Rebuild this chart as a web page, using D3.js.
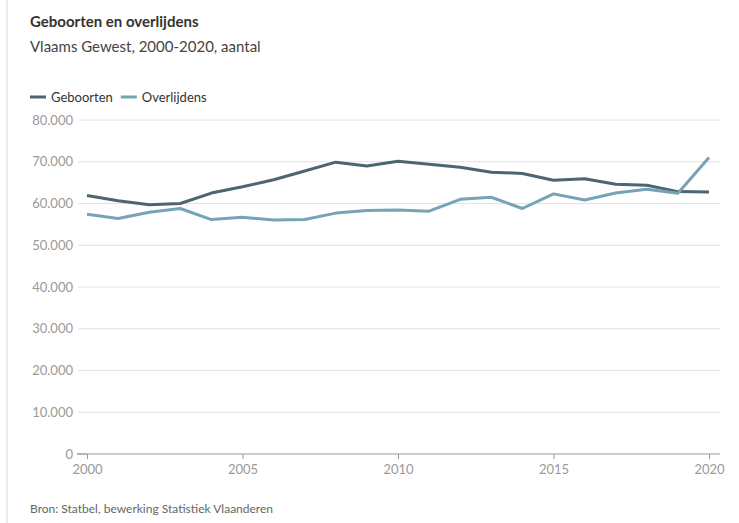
<!DOCTYPE html>
<html>
<head>
<meta charset="utf-8">
<script src="https://cdn.jsdelivr.net/npm/d3@7"></script>
<style>
  body { margin: 0; background: #fff; font-family: Lato, "Open Sans", sans-serif; }
  .frame { position: absolute; left: 6px; top: 0; width: 2px; height: 523px; background: #ebebeb; }
  .grid line { stroke: #e2e2e2; }
  .axis text { fill: #9a9a9a; font-size: 13px; font-family: Lato, sans-serif; }
</style>
</head>
<body>
<div class="frame"></div>
<div id="chart"></div>
<script>
// data
const years = d3.range(2000, 2021);
const geboorten = [61900, 60650, 59700, 60000, 62500, 64000, 65700, 67800, 69900, 69000, 70100,
                   69400, 68700, 67500, 67200, 65550, 65950, 64600, 64350, 62850, 62750];
const overlijdens = [57400, 56400, 57900, 58800, 56150, 56700, 56050, 56150, 57700, 58300, 58450,
                     58150, 61000, 61500, 58800, 62300, 60850, 62500, 63400, 62450, 71000];
const yTicks = [0, 10000, 20000, 30000, 40000, 50000, 60000, 70000, 80000];
const xTicks = [2000, 2005, 2010, 2015, 2020];

const series = [
    {name: 'Geboorten', values: geboorten, color: '#4b6571'},
    {name: 'Overlijdens', values: overlijdens, color: '#75a4b5'}
];

const width = 739, height = 523;
const svg = d3.select('#chart').append('svg')
    .attr('width', width)
    .attr('height', height);

// titles
svg.append('text')
    .attr('x', 30).attr('y', 27)
    .style('font-size', '15px').style('font-weight', 700).style('fill', '#333')
    .text('Geboorten en overlijdens');
svg.append('text')
    .attr('x', 30).attr('y', 52)
    .style('font-size', '15px').style('fill', '#444')
    .text('Vlaams Gewest, 2000-2020, aantal');

// scales
const x = d3.scaleLinear().domain([2000, 2020]).range([87, 709]);
const y = d3.scaleLinear().domain([0, 80000]).range([454, 120]);
const fmt = d => d3.format(',')(d).replace(/,/g, '.');

// gridlines
svg.append('g')
    .attr('class', 'grid')
    .selectAll('line')
    .data(yTicks.filter(d => d > 0))
    .enter()
    .append('line')
    .attr('x1', 78).attr('x2', 720)
    .attr('y1', d => y(d)).attr('y2', d => y(d));

// y labels
svg.append('g')
    .attr('class', 'axis')
    .selectAll('text')
    .data(yTicks)
    .enter()
    .append('text')
    .attr('x', 73)
    .attr('y', d => y(d))
    .attr('dy', '0.35em')
    .attr('text-anchor', 'end')
    .text(fmt);

// small tick at 0
svg.append('line')
    .attr('x1', 77).attr('x2', 87)
    .attr('y1', y(0)).attr('y2', y(0))
    .style('stroke', '#999');

// x axis
const xAxis = d3.axisBottom(x)
    .tickValues(xTicks)
    .tickFormat(d3.format('d'))
    .tickSize(5)
    .tickPadding(6);
const gx = svg.append('g')
    .attr('class', 'axis')
    .attr('transform', `translate(0,${y(0)})`)
    .call(xAxis);
gx.select('.domain').remove();
gx.selectAll('.tick line').style('stroke', '#999');
svg.append('line')
    .attr('x1', 77).attr('x2', 720)
    .attr('y1', y(0)).attr('y2', y(0))
    .style('stroke', '#999');

// lines
const line = d3.line()
    .x((d, i) => x(years[i]))
    .y(d => y(d));

series.forEach(s => {
    svg.append('path')
        .datum(s.values)
        .attr('d', line)
        .style('fill', 'none')
        .style('stroke', s.color)
        .style('stroke-width', 3)
        .style('stroke-linejoin', 'round');
});

// legend
const legend = svg.append('g').attr('transform', 'translate(30,97)');
let lx = 0;
series.forEach(s => {
    legend.append('line')
        .attr('x1', lx).attr('x2', lx + 16)
        .attr('y1', 0).attr('y2', 0)
        .style('stroke', s.color).style('stroke-width', 3);
    const t = legend.append('text')
        .attr('x', lx + 21).attr('y', 0).attr('dy', '0.35em')
        .style('font-size', '13px').style('fill', '#333')
        .text(s.name);
    lx += 21 + t.node().getComputedTextLength() + 8;
});

// source
svg.append('text')
    .attr('x', 30).attr('y', 513)
    .style('font-size', '12px').style('fill', '#666')
    .text('Bron: Statbel, bewerking Statistiek Vlaanderen');
</script>
</body>
</html>
